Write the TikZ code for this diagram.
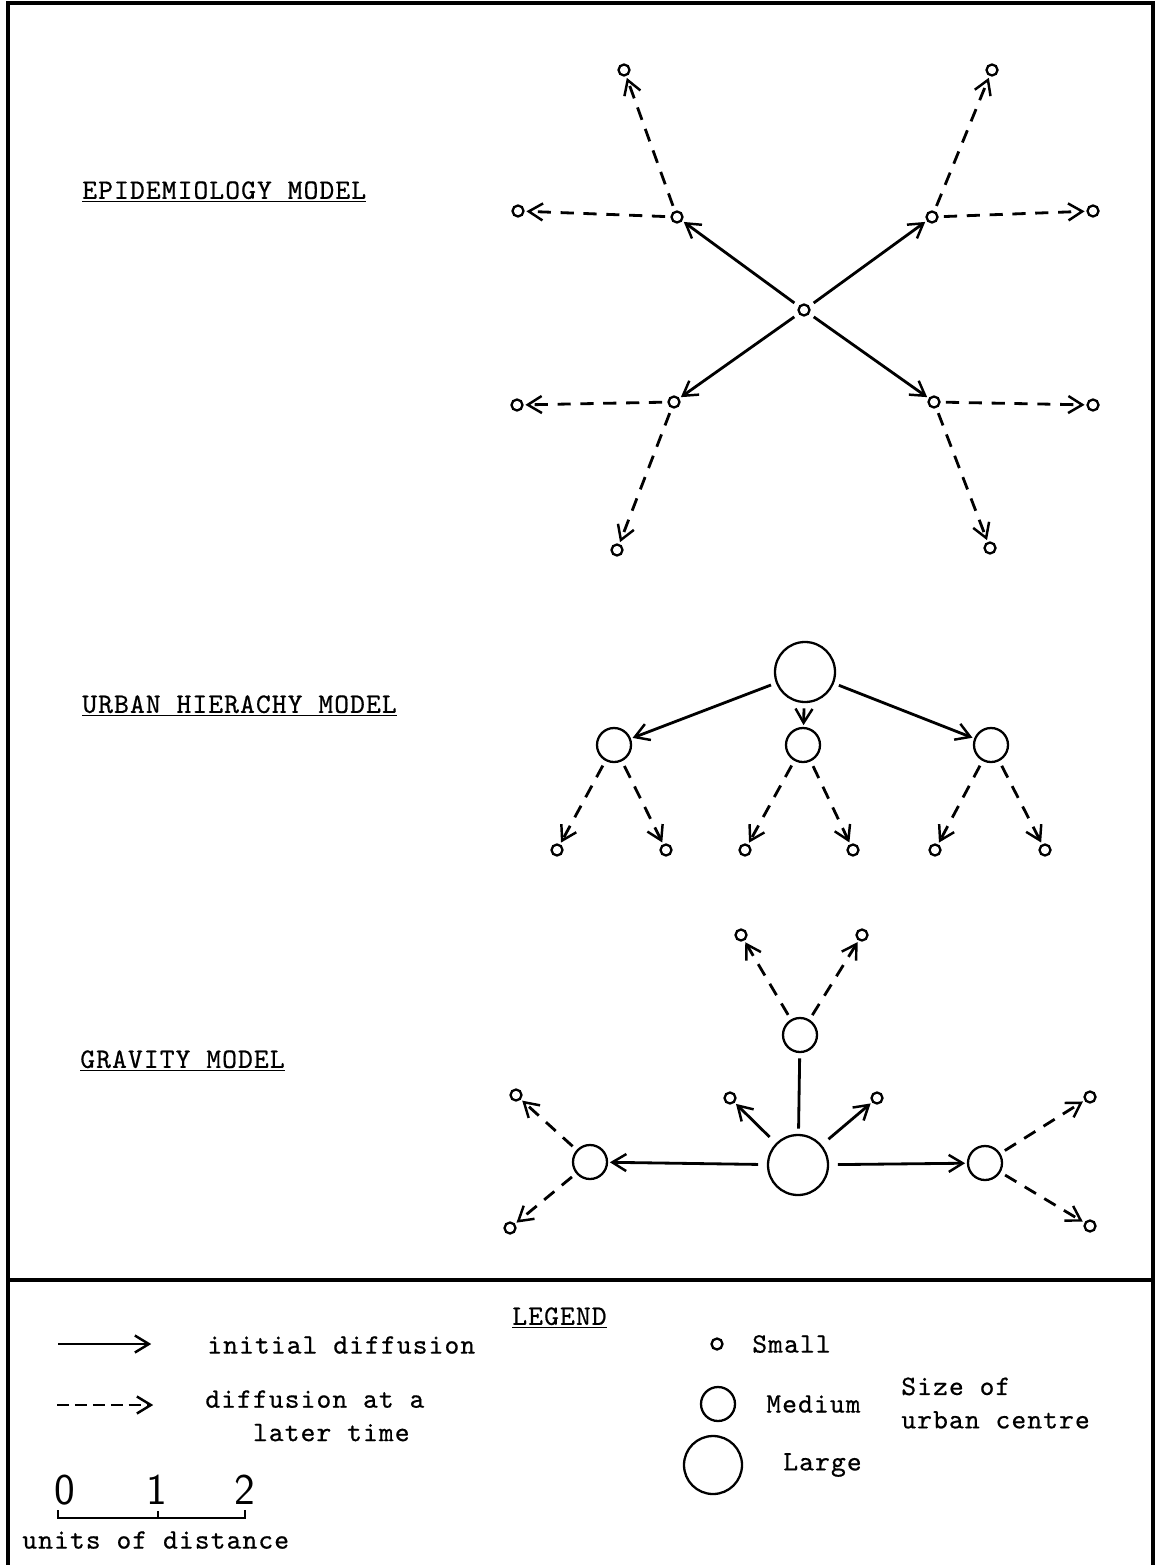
\documentclass[tikz,border=0pt]{standalone}
\usepackage{fontspec}
\setmonofont{lmmono10-regular.otf}[LetterSpace=4,FakeBold=0.6]
\usetikzlibrary{arrows.meta,positioning}

\begin{document}
\begin{tikzpicture}[
  town/.style={circle,draw,line width=1.3pt,inner sep=0pt},
  smallc/.style={town,minimum size=2.2mm},
  medc/.style={town,minimum size=6.8mm},
  largec/.style={town,minimum size=12mm},
  arrow/.style={-{Straight Barb[length=2.8mm,width=3.4mm,line width=1.4pt]},line width=1.6pt,shorten >=1pt,shorten <=3pt},
  later/.style={arrow,dash pattern=on 7.5pt off 5.5pt},
  txt/.style={font=\fontsize{16}{19}\selectfont\ttfamily,anchor=west,inner sep=0pt},
  digit/.style={font=\fontsize{25}{28}\selectfont\sffamily,inner sep=0pt}
]
\useasboundingbox (0,0) rectangle (23.18,-31.3);
% frame
\draw[line width=1.8pt] (0.16,-31.3) -- (0.16,-0.06) -- (23.06,-0.06) -- (23.06,-31.3);
\draw[line width=1.8pt] (0.16,-25.6) -- (23.06,-25.6);

% epidemiology model
\node[txt] (epi) at (1.64,-3.84) {\underline{EPIDEMIOLOGY MODEL}};
\node[smallc] (e0) at (16.08,-6.20) {};
\node[smallc] (e1) at (13.54,-4.34) {};
\node[smallc] (e2) at (18.64,-4.34) {};
\node[smallc] (e3) at (13.48,-8.04) {};
\node[smallc] (e4) at (18.68,-8.04) {};
\node[smallc] (e1a) at (12.48,-1.40) {};
\node[smallc] (e1b) at (10.36,-4.22) {};
\node[smallc] (e2a) at (19.84,-1.40) {};
\node[smallc] (e2b) at (21.86,-4.22) {};
\node[smallc] (e3a) at (10.34,-8.10) {};
\node[smallc] (e3b) at (12.34,-11.00) {};
\node[smallc] (e4a) at (21.86,-8.10) {};
\node[smallc] (e4b) at (19.80,-10.96) {};
\foreach \n in {1,2,3,4}{
  \draw[arrow] (e0) -- (e\n);
  \draw[later] (e\n) -- (e\n a);
  \draw[later] (e\n) -- (e\n b);
}

% urban hierarchy model
\node[txt] (urb) at (1.64,-14.12) {\underline{URBAN HIERACHY MODEL}};
\node[largec] (u0) at (16.10,-13.44) {};
\node[medc] (u1) at (12.28,-14.90) {};
\node[medc] (u2) at (16.06,-14.90) {};
\node[medc] (u3) at (19.82,-14.90) {};
\node[smallc] (u1a) at (11.14,-17.00) {};
\node[smallc] (u1b) at (13.32,-17.00) {};
\node[smallc] (u2a) at (14.90,-17.00) {};
\node[smallc] (u2b) at (17.06,-17.00) {};
\node[smallc] (u3a) at (18.70,-17.00) {};
\node[smallc] (u3b) at (20.90,-17.00) {};
\foreach \n in {1,2,3}{
  \draw[arrow] (u0) -- (u\n);
  \draw[later] (u\n) -- (u\n a);
  \draw[later] (u\n) -- (u\n b);
}

% gravity model
\node[txt] (grav) at (1.60,-21.22) {\underline{GRAVITY MODEL}};
\node[largec] (g0) at (15.96,-23.30) {};
\node[medc] (gl) at (11.80,-23.24) {};
\node[medc] (gr) at (19.70,-23.26) {};
\node[medc] (gt) at (16.00,-20.70) {};
\node[smallc] (gta) at (14.82,-18.70) {};
\node[smallc] (gtb) at (17.24,-18.70) {};
\node[smallc] (gla) at (10.32,-21.90) {};
\node[smallc] (glb) at (10.20,-24.56) {};
\node[smallc] (gra) at (21.80,-21.94) {};
\node[smallc] (grb) at (21.80,-24.52) {};
\node[smallc] (g0a) at (14.60,-21.96) {};
\node[smallc] (g0b) at (17.54,-21.96) {};
\draw[line width=1.6pt,shorten <=3pt,shorten >=3pt] (g0) -- (gt);
\draw[arrow,shorten <=5pt] (g0) -- (gl);
\draw[arrow,shorten <=5pt] (g0) -- (gr);
\draw[arrow,shorten <=5pt] (g0) -- (g0a);
\draw[arrow,shorten <=5pt] (g0) -- (g0b);
\foreach \n in {t,l,r}{
  \draw[later] (g\n) -- (g\n a);
  \draw[later] (g\n) -- (g\n b);
}

% legend
\node[txt,anchor=center] (leg) at (11.19,-26.36) {\underline{LEGEND}};
\coordinate (s1) at (1.16,-26.88);
\coordinate (s2) at (3.06,-26.88);
\draw[arrow,shorten <=0pt] (s1) -- (s2);
\node[txt] (init) at (4.14,-26.90) {initial diffusion};
\coordinate (d1) at (1.14,-28.10);
\coordinate (d2) at (3.10,-28.10);
\draw[later,dash pattern=on 7pt off 3.2pt,shorten <=0pt] (d1) -- (d2);
\node[txt,anchor=north west,align=left] (late) at (4.10,-27.80) {diffusion at a\\\ \ \ later time};
\node[digit] (n0) at (1.30,-29.80) {0};
\node[digit] (n1) at (3.14,-29.80) {1};
\node[digit] (n2) at (4.90,-29.80) {2};
\draw[line width=1.5pt] (1.16,-30.20) -- (1.16,-30.36) -- (4.90,-30.36) -- (4.90,-30.20);
\draw[line width=1.5pt] (3.16,-30.36) -- (3.16,-30.22);
\node[txt] (units) at (0.44,-30.80) {units of distance};
\node[smallc] (ls) at (14.34,-26.88) {};
\node[txt] at (15.04,-26.88) {Small};
\node[medc] (lm) at (14.36,-28.08) {};
\node[txt] at (15.32,-28.08) {Medium};
\node[largec,minimum size=11.6mm] (ll) at (14.26,-29.30) {};
\node[txt] at (15.66,-29.30) {Large};
\node[txt,align=left] (size) at (18.02,-28.06) {Size of\\urban centre};
\end{tikzpicture}
\end{document}
